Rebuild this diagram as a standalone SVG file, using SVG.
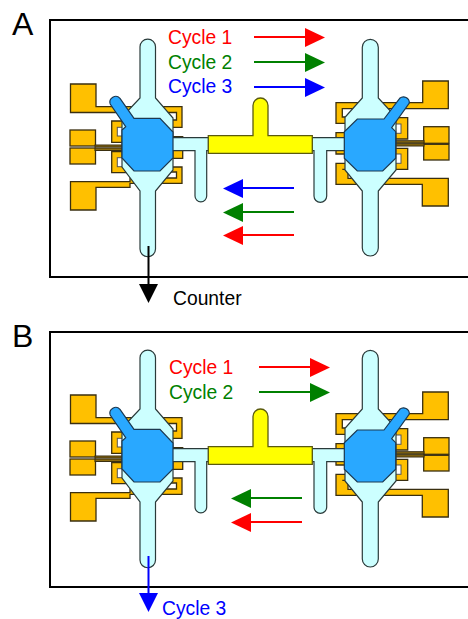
<svg xmlns="http://www.w3.org/2000/svg" xmlns:xlink="http://www.w3.org/1999/xlink" width="468" height="619" viewBox="0 0 468 619">
<style>
text{font-family:"Liberation Sans",Arial,sans-serif}
.lb{font-size:19.300px}
.big{font-size:32px;fill:#000}
.frame{fill:#fff;stroke:#000;stroke-width:2}
.g{fill:#ffc000;stroke:#3a2f10;stroke-width:1.300;stroke-linejoin:miter}
.wn{fill:#fff;stroke:#555;stroke-width:1}
.c{fill:#ccffff;stroke:#2a3a3a;stroke-width:1.200}
.o{fill:#29a8ff;stroke:#1c3850;stroke-width:1.200}
.y{fill:#ffff00;stroke:#5a5a10;stroke-width:1.300}
.br{fill:#8a6a10;stroke:#3a2f10;stroke-width:1}
.a{fill:none;stroke-width:2}
</style>
<defs>
<g id="devL">
<path class="g" d="M70.500 84H96V106.700H182V127.300H170V120H176.500V112.500H70.500Z"/>
<path class="g" d="M70.500 181.700H130V178H176.500V172H170V167H182V183.300H130V187.300H96V210H70.500Z"/>
<path class="g" d="M170 136.700H182.700V158.300H170Z"/>
<path class="g" d="M111.700 121H126V142.300H111.700Z"/>
<path class="g" d="M111.700 151.700H126V172.700H111.700Z"/>
<rect class="wn" x="117.300" y="127.300" width="6" height="8.700"/>
<rect class="wn" x="117.300" y="157.700" width="6" height="9"/>
<rect class="g" x="70" y="130" width="25.500" height="16"/>
<rect class="g" x="70" y="148" width="25.500" height="16"/>
<rect class="br" x="95" y="145" width="30" height="2"/>
<rect class="br" x="95" y="148" width="30" height="2.500"/>
<path class="c" d="M140 98V46.800A7.750 7.750 0 0 1 155.500 46.800V98L173 118V170L155.500 191V249A7.750 7.750 0 0 1 140 249V191L122 167V117Z"/>
<path class="c" d="M172 137.700H208.500V150.700H206.700V196A5.850 5.850 0 0 1 195 196V150.700H172Z"/>
<path class="o" d="M134 118.300H160L173 132V158L160 171H134L122 158V130L125.700 126.700L110.200 104A5.800 5.800 0 0 1 120 98.300L134 118.300Z"/>
</g>
<g id="devR">
<path class="g" d="M448.300 81H422.700V102.700H336V123.300H348V117H342.300V108.700H448.300Z"/>
<path class="g" d="M448.300 178.300H348V169.300H342.300V169.300H348V163.300H336V184.300H422.300V206H448.300Z"/>
<path class="g" d="M348 132.700H336V154H348Z"/>
<path class="g" d="M407.700 117.700H392V139H407.700Z"/>
<path class="g" d="M407.700 148.300H392V169.300H407.700Z"/>
<rect class="wn" x="395" y="124" width="6" height="9.300"/>
<rect class="wn" x="395" y="154" width="6" height="9.300"/>
<rect class="g" x="423.700" y="126.700" width="25.300" height="16.600"/>
<rect class="g" x="423.700" y="144.300" width="25.300" height="15.700"/>
<rect class="br" x="394" y="140.700" width="30" height="2.200"/>
<rect class="br" x="394" y="143.700" width="30" height="2.300"/>
<path class="c" d="M378.300 98V47.300A8 8 0 0 0 362.300 47.300V98L345 117.300V170L362.300 191V248A8 8 0 0 0 378.300 248V191L396 170V117Z"/>
<path class="c" d="M345 137.700H312V150.700H314V196A6.350 6.350 0 0 0 326.700 196V150.700H345Z"/>
<path class="o" d="M357.300 119H384L399.700 98.300A5.800 5.800 0 0 1 409.300 103L391.700 127.700L395.700 131.700V158.300L382.700 171H357.300L344.300 158.300V131.700Z"/>
</g>
<path id="tee" class="y" d="M208.300 135.700H253V105.500A7.500 7.500 0 0 1 268 105.500V135.700H312.300V153.300H208.300Z"/>
</defs>

<text class="big" x="12" y="35">A</text>
<text class="big" x="12" y="347">B</text>
<rect class="frame" x="50" y="20" width="419" height="257"/>
<rect class="frame" x="50" y="332" width="419" height="255"/>

<g id="panel-a-left"><use href="#devL"/></g>
<g id="panel-a-right"><use href="#devR"/></g>
<g id="panel-a-valve"><use href="#tee"/></g>
<g id="panel-b-left"><use href="#devL" y="311"/></g>
<g id="panel-b-right"><use href="#devR" y="311"/></g>
<g id="panel-b-valve"><use href="#tee" y="311"/></g>

<g id="connectors">
<g stroke="#f00" fill="#f00"><path class="a" d="M254 37H306"/><path stroke="none" d="M305 28L325 37.500L305 47Z"/></g>
<g stroke="#008000" fill="#008000"><path class="a" d="M254 62H306"/><path stroke="none" d="M305 53L325 62.500L305 72Z"/></g>
<g stroke="#00f" fill="#00f"><path class="a" d="M254 87H306"/><path stroke="none" d="M305 78L325 87.500L305 97Z"/></g>
<g stroke="#00f" fill="#00f"><path class="a" d="M294 188H242"/><path stroke="none" d="M243 179L223 188.500L243 198Z"/></g>
<g stroke="#008000" fill="#008000"><path class="a" d="M294 212H242"/><path stroke="none" d="M243 203L223 212.500L243 222Z"/></g>
<g stroke="#f00" fill="#f00"><path class="a" d="M294 235H242"/><path stroke="none" d="M243 226L223 235.500L243 245Z"/></g>
<g stroke="#000" fill="#000"><path class="a" d="M148.500 246V285"/><path stroke="none" d="M139 284L148.500 303L158 284Z"/></g>
<g stroke="#f00" fill="#f00"><path class="a" d="M259 367H311"/><path stroke="none" d="M310 358L330 367.500L310 377Z"/></g>
<g stroke="#008000" fill="#008000"><path class="a" d="M259 392H311"/><path stroke="none" d="M310 383L330 392.500L310 402Z"/></g>
<g stroke="#008000" fill="#008000"><path class="a" d="M302 498H250"/><path stroke="none" d="M251 489L231 498.500L251 508Z"/></g>
<g stroke="#f00" fill="#f00"><path class="a" d="M302 522H250"/><path stroke="none" d="M251 513L231 522.500L251 532Z"/></g>
<g stroke="#00f" fill="#00f"><path class="a" d="M148.500 556V594"/><path stroke="none" d="M139 593L148.500 612L158 593Z"/></g>
</g>

<g id="labels">
<text class="lb" x="168" y="44" fill="#f00">Cycle 1</text>
<text class="lb" x="168" y="69" fill="#008000">Cycle 2</text>
<text class="lb" x="168" y="93" fill="#00f">Cycle 3</text>
<text class="lb" x="173" y="305" fill="#000">Counter</text>
<text class="lb" x="169" y="374" fill="#f00">Cycle 1</text>
<text class="lb" x="169" y="399" fill="#008000">Cycle 2</text>
<text class="lb" x="162" y="615" fill="#00f">Cycle 3</text>
</g>
</svg>
